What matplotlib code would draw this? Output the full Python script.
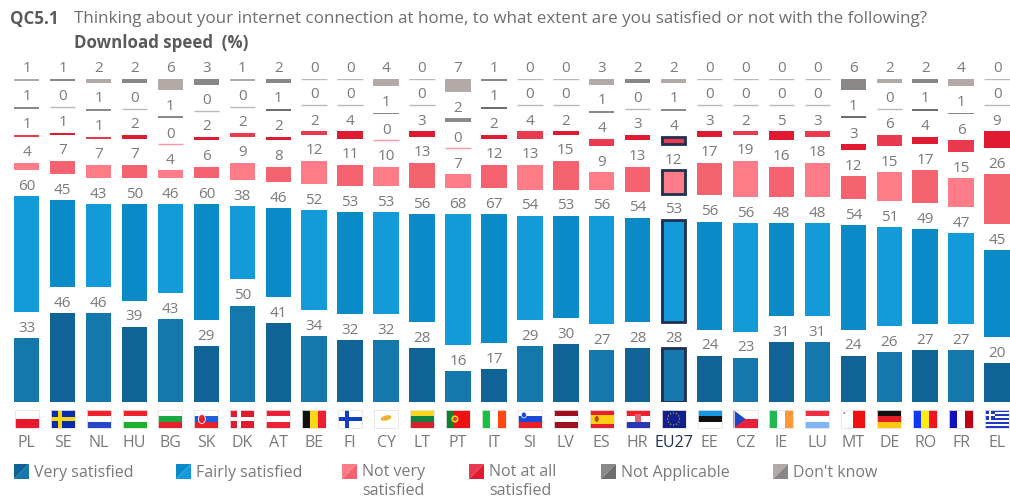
#!/usr/bin/env python3
import numpy as np
import matplotlib
matplotlib.use("Agg")
import matplotlib.pyplot as plt
from matplotlib.patches import Rectangle, Polygon, Circle, Ellipse

plt.rcParams["font.family"] = ["Open Sans", "DejaVu Sans"]

countries = ["PL", "SE", "NL", "HU", "BG", "SK", "DK", "AT", "BE", "FI", "CY", "LT", "PT", "IT",
             "SI", "LV", "ES", "HR", "EU27", "EE", "CZ", "IE", "LU", "MT", "DE", "RO", "FR", "EL"]
very_satisfied = [33, 46, 46, 39, 43, 29, 50, 41, 34, 32, 32, 28, 16, 17,
                  29, 30, 27, 28, 28, 24, 23, 31, 31, 24, 26, 27, 27, 20]
fairly_satisfied = [60, 45, 43, 50, 46, 60, 38, 46, 52, 53, 53, 56, 68, 67,
                    54, 53, 56, 54, 53, 56, 56, 48, 48, 54, 51, 49, 47, 45]
not_very = [4, 7, 7, 7, 4, 6, 9, 8, 12, 11, 10, 13, 7, 12,
            13, 15, 9, 13, 12, 17, 19, 16, 18, 12, 15, 17, 15, 26]
not_at_all = [1, 1, 1, 2, 0, 2, 2, 2, 2, 4, 0, 3, 0, 2,
              4, 2, 4, 3, 4, 3, 2, 5, 3, 3, 6, 4, 6, 9]
not_applicable = [1, 0, 1, 0, 1, 0, 0, 1, 0, 0, 1, 0, 2, 1,
                  0, 0, 1, 0, 1, 0, 0, 0, 0, 1, 0, 1, 1, 0]
dont_know = [1, 1, 2, 2, 6, 3, 1, 2, 0, 0, 4, 0, 7, 1,
             0, 0, 3, 2, 2, 0, 0, 0, 0, 6, 2, 2, 4, 0]

series = [very_satisfied, fairly_satisfied, not_very, not_at_all, not_applicable, dont_know]
# columns alternate between a lighter and a darker shade
light = ["#1478ad", "#129bd8", "#fe7c88", "#ea3a50", "#8c8888", "#b3aaa7"]
dark = ["#0f6396", "#0a8ac6", "#f5626f", "#e01a30", "#6f6c6c", "#8a8787"]
legend_labels = ["Very satisfied", "Fairly satisfied", "Not very\nsatisfied",
                 "Not at all\nsatisfied", "Not Applicable", "Don't know"]
legend_x = [14, 176, 342, 469, 601, 773]

GRAY = "#7a7a7a"
NAVY = "#1f3050"
GAP = 13.5  # room for the label between two segments, in %

fig = plt.figure(figsize=(10.1, 4.97), dpi=100)
W, H = 1010, 497
x0, step, base_y, y_scale = 26.7, 35.94, 402, 1.93

# overlay in pixels, for title, flags and legend
ov = fig.add_axes([0, 0, 1, 1])
ov.set_xlim(0, W)
ov.set_ylim(H, 0)
ov.axis("off")

top = 100 + 5 * GAP
ax = fig.add_axes([(x0 - step / 2) / W, (H - base_y) / H, 28 * step / W, top * y_scale / H])
ax.patch.set_alpha(0)
ax.set_xlim(-0.5, 27.5)
ax.set_ylim(0, top)
for s in ax.spines.values():
    s.set_visible(False)
ax.set_yticks([])
ax.set_xticks(np.arange(len(countries)))
ax.set_xticklabels(countries, fontsize=11.5, color=GRAY)
ax.tick_params(axis="x", length=0, pad=24)
eu = countries.index("EU27")
ax.get_xticklabels()[eu].set_color(NAVY)

x = np.arange(len(countries))
bottom = np.zeros(len(countries))
for k, vals in enumerate(series):
    vals = np.array(vals)
    cols = [light[k] if i % 2 == 0 else dark[k] for i in range(len(vals))]
    edge = ["none" if v > 0 else "#b9b9b9" for v in vals]
    if k == 3:
        edge = ["none" if v > 0 else "#f59aa3" for v in vals]
    ax.bar(x, vals, 0.71, bottom=bottom, color=cols, edgecolor=edge, linewidth=1.0)
    # the EU27 outline stops at the two grey rows
    if k < 4:
        ax.bar(x[eu], vals[eu], 0.66, bottom=bottom[eu], color=cols[eu], edgecolor=NAVY, linewidth=2.0)
    for i, v in enumerate(vals):
        ax.text(i, bottom[i] + v + 1.2, str(v), ha="center", va="bottom", fontsize=11, color=GRAY)
    bottom = bottom + vals + GAP

ov.text(10, 19, "QC5.1", fontsize=12.2, fontweight="bold", color="#5a5a5a", va="center")
ov.text(74, 19, "Thinking about your internet connection at home, to what extent are you satisfied "
        "or not with the following?", fontsize=12.23, color="#6e6e6e", va="center")
ov.text(74, 43, "Download speed  (%)", fontsize=12.2, fontweight="bold", color="#5a5a5a", va="center")

# flags
H_STRIPES = {
    "PL": ["#ffffff", "#e8192c"], "NL": ["#f0202c", "#ffffff", "#2448c8"],
    "HU": ["#f0202c", "#ffffff", "#20b030"], "BG": ["#ffffff", "#1aa640", "#e8202c"],
    "SK": ["#ffffff", "#1c5ce0", "#e8202c"], "AT": ["#ee2038", "#ffffff", "#ee2038"],
    "LT": ["#f8d81c", "#108040", "#d8202c"], "SI": ["#ffffff", "#1c48d8", "#e8202c"],
    "LV": ["#a01020", "#ffffff", "#a01020"], "ES": ["#e8202c", "#fcd010", "#fcd010", "#e8202c"],
    "HR": ["#ee2030", "#ffffff", "#2838b8"], "EE": ["#1898e0", "#101010", "#ffffff"],
    "LU": ["#f03040", "#ffffff", "#80b4f4"], "DE": ["#101010", "#e81c24", "#fcc810"],
    "EU27": ["#10208c"], "CY": ["#ffffff"],
}
V_STRIPES = {
    "BE": ["#101010", "#fad814", "#ee2030"], "IT": ["#1cc040", "#ffffff", "#ff4810"],
    "IE": ["#20b850", "#ffffff", "#ff9838"], "RO": ["#1038f0", "#fcec10", "#f01420"],
    "FR": ["#1010c0", "#ffffff", "#c00010"], "MT": ["#ffffff", "#f01010"],
    "PT": ["#108030", "#f01010", "#f01010"],
}
FLAG_W, FLAG_H = 24, 18
FLAG_TOP = 410


def draw_flag(name, cx):
    l, t = cx - FLAG_W / 2, FLAG_TOP
    ov.add_patch(Rectangle((l, t), FLAG_W, FLAG_H, fc="#ffffff", ec="none"))
    if name in H_STRIPES:
        st = H_STRIPES[name]
        for i, c in enumerate(st):
            ov.add_patch(Rectangle((l, t + i * FLAG_H / len(st)), FLAG_W, FLAG_H / len(st), fc=c, ec="none"))
    elif name in V_STRIPES:
        st = V_STRIPES[name]
        for i, c in enumerate(st):
            ov.add_patch(Rectangle((l + i * FLAG_W / len(st), t), FLAG_W / len(st), FLAG_H, fc=c, ec="none"))
    cross = {"SE": ("#0a2ca8", "#f8d810"), "DK": ("#e01c30", "#ffffff"), "FI": ("#ffffff", "#1040c0")}
    if name in cross:
        bg, fg = cross[name]
        ov.add_patch(Rectangle((l, t), FLAG_W, FLAG_H, fc=bg, ec="none"))
        ov.add_patch(Rectangle((l + 7, t), 4, FLAG_H, fc=fg, ec="none"))
        ov.add_patch(Rectangle((l, t + 7), FLAG_W, 4, fc=fg, ec="none"))
    if name == "CZ":
        ov.add_patch(Rectangle((l, t + FLAG_H / 2), FLAG_W, FLAG_H / 2, fc="#e8203c", ec="none"))
        ov.add_patch(Polygon([(l, t), (l + 12, t + FLAG_H / 2), (l, t + FLAG_H)], fc="#1c48c8", ec="none"))
    if name == "EL":
        for i in range(9):
            c = "#2038c8" if i % 2 == 0 else "#ffffff"
            ov.add_patch(Rectangle((l, t + i * 2), FLAG_W, 2, fc=c, ec="none"))
        ov.add_patch(Rectangle((l, t), 10, 10, fc="#2038c8", ec="none"))
        ov.add_patch(Rectangle((l + 4, t), 2, 10, fc="#ffffff", ec="none"))
        ov.add_patch(Rectangle((l, t + 4), 10, 2, fc="#ffffff", ec="none"))
    if name == "EU27":
        for a in np.arange(12) * np.pi / 6:
            ov.add_patch(Circle((cx + 6 * np.cos(a), t + 9 + 6 * np.sin(a)), 0.6, fc="#e8d040", ec="none"))
    if name == "CY":
        ov.add_patch(Ellipse((cx, t + 8), 11, 5, angle=-15, fc="#f0b030", ec="none"))
    if name == "SK":
        ov.add_patch(Ellipse((l + 7.5, t + 9), 7, 9, fc="#e8202c", ec="#ffffff", lw=0.6))
    if name == "SI":
        ov.add_patch(Ellipse((l + 6, t + 5), 5, 6, fc="#1c48d8", ec="#ffffff", lw=0.5))
    if name == "PT":
        ov.add_patch(Circle((l + 9, t + 9), 3.6, fc="#f0d020", ec="none"))
        ov.add_patch(Circle((l + 9, t + 9), 2, fc="#e04040", ec="none"))
    if name == "ES":
        ov.add_patch(Ellipse((l + 7, t + 9), 4, 6, fc="#c04020", ec="none"))
    if name == "HR":
        ov.add_patch(Rectangle((cx - 3, t + 3.5), 6, 8, fc="#e06070", ec="none"))
    if name == "MT":
        ov.add_patch(Circle((l + 3, t + 3), 1, fc="#808080", ec="none"))
    ov.add_patch(Rectangle((l, t), FLAG_W, FLAG_H, fc="none", ec="#e4e4e4", lw=0.6))


for i, c in enumerate(countries):
    draw_flag(c, x0 + i * step)

# legend squares are split in two along the diagonal
SQ = 15
for k, lab in enumerate(legend_labels):
    lx = legend_x[k]
    ly = 464
    ov.add_patch(Polygon([(lx, ly), (lx + SQ, ly), (lx, ly + SQ)], fc=light[k] if k > 1 else dark[k], ec="none"))
    ov.add_patch(Polygon([(lx + SQ, ly), (lx + SQ, ly + SQ), (lx, ly + SQ)], fc=dark[k] if k > 1 else light[k], ec="none"))
    if "\n" in lab:
        ov.text(lx + 20, 464, lab, fontsize=11.5, color=GRAY, va="top", linespacing=1.25)
    else:
        ov.text(lx + 20, 473, lab, fontsize=11.5, color=GRAY, va="center")

fig.savefig("out.png", dpi=100)
plt.close(fig)
